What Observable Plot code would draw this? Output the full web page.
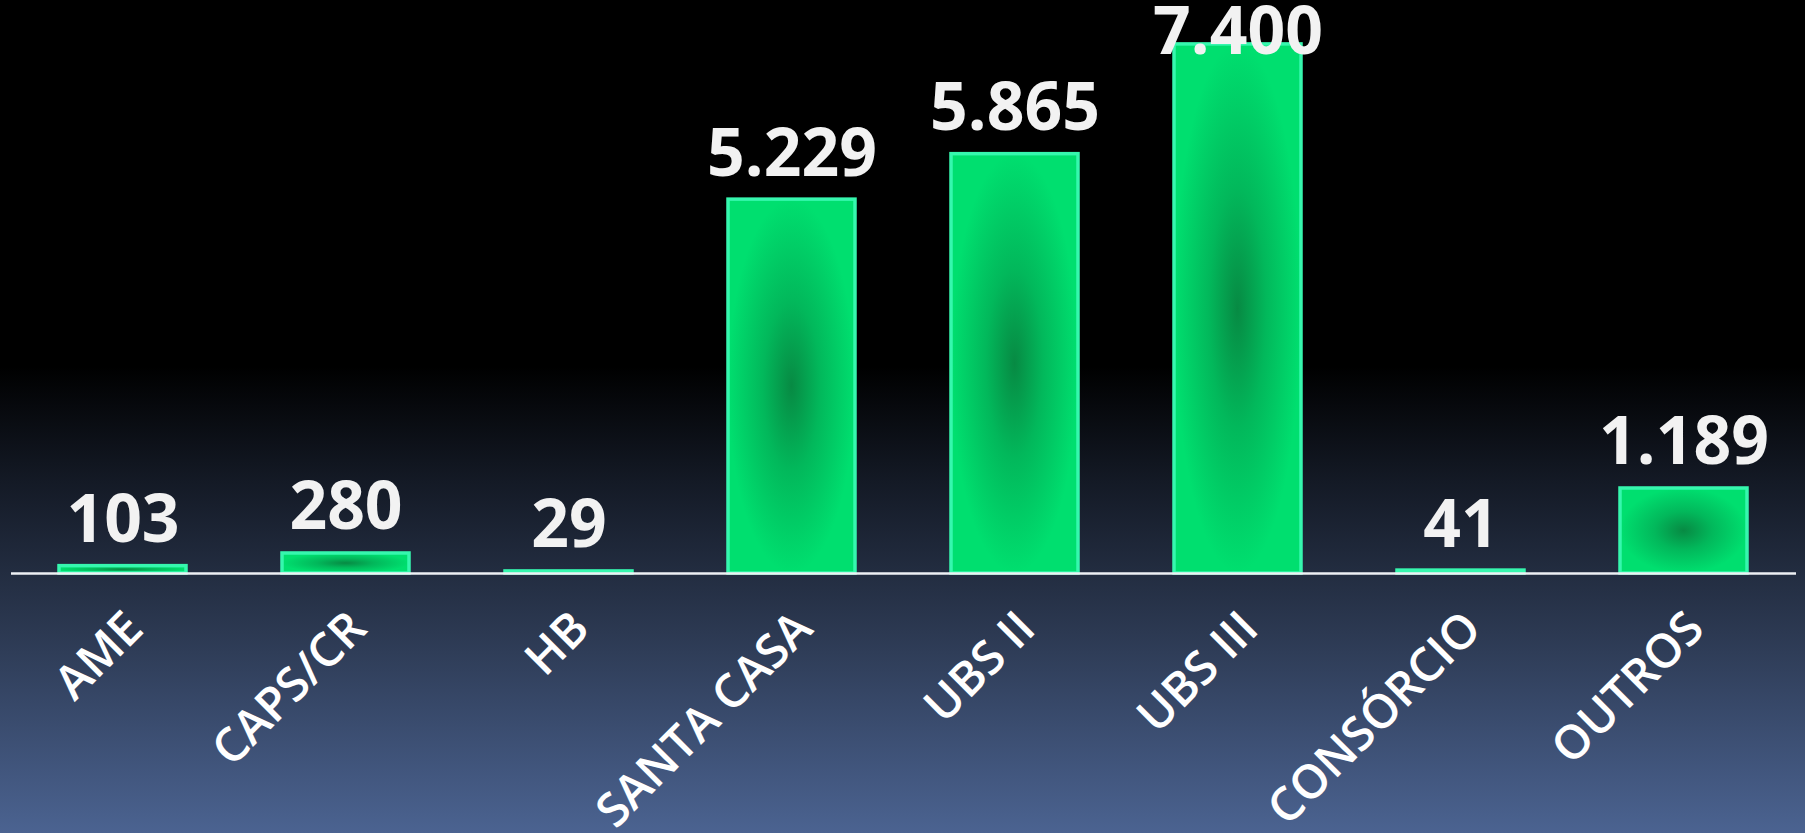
<!DOCTYPE html>
<html>
<head>
<meta charset="utf-8">
<script src="https://cdn.jsdelivr.net/npm/d3@7"></script>
<script src="https://cdn.jsdelivr.net/npm/@observablehq/plot@0.6"></script>
<style>
  html, body { margin: 0; padding: 0; width: 1805px; height: 833px; overflow: hidden; }
  body { background: linear-gradient(to bottom, #000 0%, #000 44%, #141a26 58%, #2c3952 76%, #4b6391 100%); }
  #chart svg { display: block; }
</style>
</head>
<body>
<div id="chart"></div>
<script>
const categories = ["AME", "CAPS/CR", "HB", "SANTA CASA", "UBS II", "UBS III", "CONSÓRCIO", "OUTROS"];
const values = [103, 280, 29, 5229, 5865, 7400, 41, 1189];
const yMax = 8000;

const data = categories.map((c, i) => ({category: c, value: values[i]}));
const maxValue = d3.max(values);
const fmt = d3.formatLocale({decimal: ",", thousands: ".", grouping: [3], currency: ["R$", ""]}).format(",");

const numFont = "'Open Sans', sans-serif";

const svg = Plot.plot({
  width: 1805,
  height: 833,
  marginTop: 1,
  marginBottom: 260,
  marginLeft: 11,
  marginRight: 9,
  style: {background: "transparent", color: "#ffffff", fontFamily: "'Open Sans', sans-serif", overflow: "visible"},
  x: {domain: categories, paddingInner: 0.43, paddingOuter: 0.215, label: null},
  y: {domain: [0, yMax], axis: null},
  marks: [
    Plot.barY(data, {
      x: "category", y: "value",
      fill: "url(#barGrad)", stroke: "#36f7ae", strokeWidth: 3.5,
      style: "filter: drop-shadow(0 0 7px rgba(0,0,0,0.9))"
    }),
    Plot.ruleY([0], {stroke: "#eef0f4", strokeWidth: 2.5}),
    Plot.text(data.filter(d => d.value < maxValue), {
      x: "category", y: "value", text: d => fmt(d.value),
      lineAnchor: "bottom", dy: -24, fontSize: 66, fontWeight: 700,
      fill: "#f2f2f2", fontFamily: numFont
    }),
    Plot.text(data.filter(d => d.value === maxValue), {
      x: "category", y: "value", text: d => fmt(d.value),
      lineAnchor: "bottom", dy: 10, fontSize: 66, fontWeight: 700,
      fill: "#f2f2f2", fontFamily: numFont
    }),
    Plot.axisX({
      tickSize: 0, tickPadding: 47, tickRotate: -45, fontSize: 47,
      fontWeight: 600, fill: "#ffffff", label: null, dx: 12
    })
  ]
});

const defs = d3.select(svg).insert("defs", ":first-child");
const g = defs.append("radialGradient").attr("id", "barGrad")
  .attr("cx", "50%").attr("cy", "50%").attr("r", "50%");
g.append("stop").attr("offset", "0%").attr("stop-color", "#078a43");
g.append("stop").attr("offset", "45%").attr("stop-color", "#02b85b");
g.append("stop").attr("offset", "100%").attr("stop-color", "#00df6f");

document.getElementById("chart").appendChild(svg);
</script>
</body>
</html>
